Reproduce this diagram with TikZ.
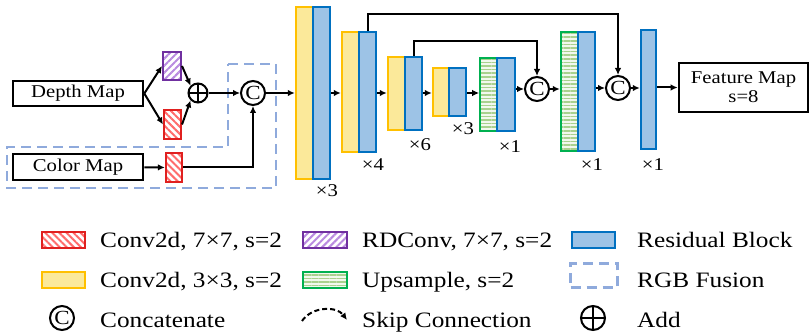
\documentclass[tikz,border=0pt]{standalone}
\usepackage{fontspec}
\setmainfont[FakeStretch=1.15]{Liberation Serif}
\usetikzlibrary{patterns.meta,arrows.meta}

\definecolor{yelfill}{HTML}{FBE99A}
\definecolor{yelline}{HTML}{FFC000}
\definecolor{bluefill}{HTML}{9DC3E6}
\definecolor{blueline}{HTML}{0070C0}
\definecolor{greenline}{HTML}{00B050}
\definecolor{greenstripe}{HTML}{A9D18E}
\definecolor{greenbg}{HTML}{F2F8EE}
\definecolor{redline}{HTML}{E0201F}
\definecolor{redstripe}{HTML}{FF6B6B}
\definecolor{purpleline}{HTML}{7030A0}
\definecolor{purplestripe}{HTML}{B98AE0}
\definecolor{fusion}{HTML}{8FAADC}

\tikzset{
  diag/.style={font=\fontsize{18}{22}\selectfont},
  legtext/.style={font=\fontsize{22}{26}\selectfont, anchor=base west, inner sep=0pt},
  yel/.style={draw=yelline, fill=yelfill, line width=2.4pt, inner sep=0pt},
  res/.style={draw=blueline, fill=bluefill, line width=2.4pt, inner sep=0pt},
  ups/.style={draw=greenline, line width=2.4pt, inner sep=0pt, preaction={fill=greenbg},
    pattern={Lines[angle=0,distance=3.6pt,line width=1.6pt]}, pattern color=greenstripe},
  conv/.style={draw=redline, line width=2.2pt, inner sep=0pt, preaction={fill=white},
    pattern={Lines[angle=-45,distance=5pt,line width=2pt]}, pattern color=redstripe},
  rdconv/.style={draw=purpleline, line width=2.2pt, inner sep=0pt, preaction={fill=white},
    pattern={Lines[angle=45,distance=5pt,line width=2pt]}, pattern color=purplestripe},
  mapbox/.style={draw, line width=2.6pt, inner sep=0pt, diag},
  concat/.style={circle, draw, line width=2pt, minimum size=24pt, inner sep=0pt,
    font=\fontsize{20}{20}\selectfont},
  addop/.style={circle, draw, line width=2pt, minimum size=#1, inner sep=0pt,
    path picture={\draw[line width=2pt]
      (path picture bounding box.north) -- (path picture bounding box.south)
      (path picture bounding box.west) -- (path picture bounding box.east);}},
  flow/.style={line width=2pt, -{Latex[length=7pt,width=6.5pt]}},
  fusionbox/.style={draw=fusion, line width=2.4pt, dash pattern=on 10pt off 6pt},
}

\begin{document}
\begin{tikzpicture}[x=1pt, y=-1pt]
\useasboundingbox (0,0) rectangle (811,336);

% RGB fusion region
\draw[fusionbox] (228,64) -- (276,64) -- (276,188) -- (7,188) -- (7,147) -- (228,147) -- cycle;

% inputs
\node[mapbox, minimum width=130pt, minimum height=25pt] (depth) at (78,93.5) {Depth Map};
\node[mapbox, minimum width=130pt, minimum height=26pt] (color) at (78,167) {Color Map};

\node[rdconv, minimum width=18pt, minimum height=28pt] (rd) at (172,66) {};
\node[conv, minimum width=17pt, minimum height=29pt] (cvd) at (172.5,124.5) {};
\node[conv, minimum width=16pt, minimum height=29pt] (cvc) at (174,167.5) {};
\node[addop=19pt] (add) at (198,93) {};
\node[concat] (c0) at (253,93) {C};

\draw[flow] (depth.east) -- (rd.west);
\draw[flow] (depth.east) -- (cvd.west);
\draw[flow] (rd.east) -- (add.135);
\draw[flow] (cvd.east) -- (add.225);
\draw[flow] (add) -- (c0);
\draw[flow] (color) -- (cvc);
\draw[flow] (cvc.east) -- (cvc.east -| c0) -- (c0.south);

% encoder
\node[yel, minimum width=17pt, minimum height=172pt] (y1) at (304.5,93) {};
\node[res, minimum width=17pt, minimum height=172pt] (b1) at (321.5,93) {};
\node[yel, minimum width=17pt, minimum height=120pt] (y2) at (350.5,92) {};
\node[res, minimum width=17pt, minimum height=120pt] (b2) at (367.5,92) {};
\node[yel, minimum width=17pt, minimum height=73pt] (y3) at (396.5,93.5) {};
\node[res, minimum width=17pt, minimum height=73pt] (b3) at (413.5,93.5) {};
\node[yel, minimum width=16pt, minimum height=48pt] (y4) at (441,92) {};
\node[res, minimum width=17pt, minimum height=48pt] (b4) at (457.5,92) {};

% decoder
\node[ups, minimum width=17pt, minimum height=73pt] (g1) at (488.5,94.5) {};
\node[res, minimum width=18pt, minimum height=73pt] (b5) at (506,94.5) {};
\node[concat] (c1) at (537,89) {C};
\node[ups, minimum width=17pt, minimum height=119pt] (g2) at (569.5,91.5) {};
\node[res, minimum width=17pt, minimum height=119pt] (b6) at (586.5,91.5) {};
\node[concat] (c2) at (618,88) {C};
\node[res, minimum width=15pt, minimum height=119pt] (b7) at (648.5,89.5) {};
\node[mapbox, minimum width=129pt, minimum height=49pt, align=center] (feat) at (743.5,87.5)
  {Feature Map\\[-3pt]s=8};

% repeat counts
\node[diag] (n1) at (327,191) {×3};
\node[diag] (n2) at (373,165) {×4};
\node[diag] (n3) at (420,145) {×6};
\node[diag] (n4) at (463,129) {×3};
\node[diag] (n5) at (510,147) {×1};
\node[diag] (n6) at (592,165) {×1};
\node[diag] (n7) at (653,165) {×1};

% main path
\draw[flow] (c0) -- (c0 -| y1.west);
\draw[flow] (b1.east |- c0) -- (c0 -| y2.west);
\draw[flow] (b2.east |- c0) -- (c0 -| y3.west);
\draw[flow] (b3.east |- c0) -- (c0 -| y4.west);
\draw[flow] (b4.east |- c0) -- (c0 -| g1.west);
\draw[flow] (b5.east |- c1) -- (c1.west);
\draw[flow] (c1.east) -- (c1 -| g2.west);
\draw[flow] (b6.east |- c2) -- (c2.west);
\draw[flow] (c2.east) -- (c2 -| b7.west);
\draw[flow] (b7.east |- feat) -- (feat.west);

% skip connections
\draw[flow] (b2.north) -- ++(0,-17) -| (c2.north);
\draw[flow] (b3.north) -- ++(0,-15) -| (c1.north);

% legend
\node[conv, minimum width=43pt, minimum height=16pt] (lconv) at (63.5,240) {};
\node[legtext] (tconv) at (100,248) {Conv2d, 7×7, s=2};
\node[yel, minimum width=43pt, minimum height=16pt] (lyel) at (63.5,280) {};
\node[legtext] (tyel) at (100,288) {Conv2d, 3×3, s=2};
\node[concat] (lcat) at (62,318) {C};
\node[legtext] (tcat) at (100,327.5) {Concatenate};

\node[rdconv, minimum width=44pt, minimum height=16pt] (lrd) at (325,240) {};
\node[legtext] (trd) at (362,248) {RDConv, 7×7, s=2};
\node[ups, minimum width=44pt, minimum height=16pt] (lups) at (325,280) {};
\node[legtext] (tups) at (362,288) {Upsample, s=2};
\coordinate (sk1) at (302,321);
\coordinate (sk2) at (347,320);
\draw[line width=2pt, dash pattern=on 5pt off 3pt, -{Latex[length=7pt,width=6.5pt]}]
  (sk1) to[bend left=55] (sk2);
\node[legtext] (tsk) at (362,327.5) {Skip Connection};

\node[res, minimum width=43pt, minimum height=16pt] (lres) at (593.5,240) {};
\node[legtext] (tres) at (637,248) {Residual Block};
\node[fusionbox, minimum width=47pt, minimum height=24pt] (lfus) at (594,275.5) {};
\node[legtext] (tfus) at (637,288) {RGB Fusion};
\node[addop=24pt] (ladd) at (593,318) {};
\node[legtext] (tadd) at (637,327.5) {Add};
\end{tikzpicture}
\end{document}
